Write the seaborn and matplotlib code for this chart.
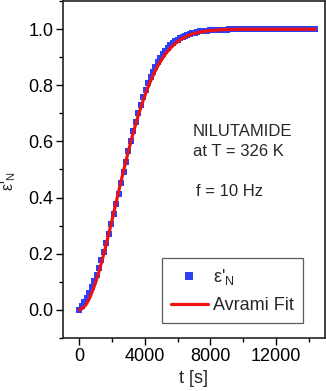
import matplotlib
matplotlib.use("Agg")
import matplotlib.pyplot as plt
import seaborn as sns
import pandas as pd
from matplotlib.ticker import MultipleLocator

# measured data (t in s, normalized permittivity)
t_data = [0, 150, 300, 450, 600, 750, 900, 1050, 1200, 1350,
          1500, 1650, 1800, 1950, 2100, 2250, 2400, 2550, 2700, 2850,
          3000, 3150, 3300, 3450, 3600, 3750, 3900, 4050, 4200, 4350,
          4500, 4650, 4800, 4950, 5100, 5250, 5400, 5550, 5700, 5850,
          6000, 6150, 6300, 6450, 6600, 6750, 6900, 7050, 7200, 7350,
          7500, 7650, 7800, 7950, 8100, 8250, 8400, 8550, 8700, 8850,
          9000, 9150, 9300, 9450, 9600, 9750, 9900, 10050, 10200, 10350,
          10500, 10650, 10800, 10950, 11100, 11250, 11400, 11550, 11700, 11850,
          12000, 12150, 12300, 12450, 12600, 12750, 12900, 13050, 13200, 13350,
          13500, 13650, 13800, 13950, 14100, 14250, 14400]
eps_data = [0.000, 0.013, 0.027, 0.043, 0.061, 0.081, 0.102, 0.125, 0.150, 0.177,
            0.206, 0.237, 0.270, 0.304, 0.340, 0.377, 0.414, 0.452, 0.490, 0.528,
            0.565, 0.601, 0.636, 0.669, 0.700, 0.729, 0.757, 0.783, 0.807, 0.829,
            0.849, 0.867, 0.883, 0.898, 0.911, 0.923, 0.933, 0.942, 0.950, 0.957,
            0.963, 0.969, 0.973, 0.977, 0.981, 0.984, 0.986, 0.988, 0.990, 0.992,
            0.993, 0.994, 0.995, 0.996, 0.997, 0.997, 0.998, 0.998, 0.999, 0.999,
            0.999, 1.000, 1.000, 1.000, 1.000, 1.000, 1.000, 1.000, 1.000, 1.000,
            1.000, 1.000, 1.000, 1.000, 1.000, 1.000, 1.000, 1.000, 1.000, 1.000,
            1.000, 1.000, 1.000, 1.000, 1.000, 1.000, 1.000, 1.000, 1.000, 1.000,
            1.000, 1.000, 1.000, 1.000, 1.000, 1.000, 1.000]

# Avrami fit curve values
t_fit = [0, 200, 400, 600, 800, 1000, 1200, 1400, 1600, 1800,
         2000, 2200, 2400, 2600, 2800, 3000, 3200, 3400, 3600, 3800,
         4000, 4200, 4400, 4600, 4800, 5000, 5200, 5400, 5600, 5800,
         6000, 6200, 6400, 6600, 6800, 7000, 7400, 7800, 8200, 8600,
         9000, 10000, 11000, 12000, 13000, 14400]
eps_fit = [0.000, 0.005, 0.018, 0.038, 0.066, 0.098, 0.136, 0.178, 0.223, 0.271,
           0.320, 0.371, 0.421, 0.471, 0.519, 0.566, 0.611, 0.653, 0.693, 0.729,
           0.763, 0.794, 0.822, 0.847, 0.870, 0.889, 0.907, 0.922, 0.935, 0.946,
           0.956, 0.964, 0.970, 0.976, 0.981, 0.985, 0.990, 0.994, 0.996, 0.998,
           0.999, 1.000, 1.000, 1.000, 1.000, 1.000]

x_ticks = [0, 4000, 8000, 12000]
y_ticks = [0.0, 0.2, 0.4, 0.6, 0.8, 1.0]

sns.set_theme(style="ticks")
plt.rcParams['font.family'] = ['Liberation Sans', 'DejaVu Sans']
plt.rcParams['mathtext.fontset'] = 'custom'
plt.rcParams['mathtext.rm'] = 'Liberation Sans'
plt.rcParams['mathtext.it'] = 'Liberation Sans'

fig = plt.figure(figsize=(3.26, 3.91), dpi=100)
ax = fig.add_axes([0.193, 0.136, 0.804, 0.861])

df_data = pd.DataFrame({"t": t_data, "eps": eps_data})
df_fit = pd.DataFrame({"t": t_fit, "eps": eps_fit})

sns.lineplot(data=df_data, x="t", y="eps", ax=ax, linestyle="none", marker="s",
             markersize=4.9, markeredgewidth=0, color="#2d3ff7", label="ε'$_\\mathregular{N}$")
sns.lineplot(data=df_fit, x="t", y="eps", ax=ax, color="#ee1111", linewidth=2.3,
             label="Avrami Fit")

ax.set_xlim(-1000, 15000)
ax.set_ylim(-0.1, 1.1)
ax.set_xticks(x_ticks)
ax.set_yticks(y_ticks)
ax.set_yticklabels([f"{v:.1f}" for v in y_ticks])
ax.xaxis.set_minor_locator(MultipleLocator(2000))
ax.yaxis.set_minor_locator(MultipleLocator(0.1))
ax.tick_params(which="major", direction="out", length=5, width=1, labelsize=13,
               colors="black", pad=2)
ax.tick_params(which="minor", direction="out", length=3, width=1, colors="black")
for s in ax.spines.values():
    s.set_visible(True)
    s.set_linewidth(1.2)
    s.set_color("#222222")

ax.set_xlabel("t [s]", fontsize=13, labelpad=4)
ax.set_ylabel("ε'$_\\mathregular{N}$", fontsize=11.5)
ax.yaxis.set_label_coords(-0.172, 0.465)

ax.text(0.496, 0.584, "NILUTAMIDE\nat T = 326 K", transform=ax.transAxes,
        fontsize=12, va="center", ha="left", linespacing=1.4)
ax.text(0.508, 0.436, "f = 10 Hz", transform=ax.transAxes, fontsize=12,
        va="center", ha="left")

leg = ax.legend(loc="lower right", bbox_to_anchor=(0.916, 0.043), fontsize=13,
                frameon=True, fancybox=False, handlelength=2.05, handletextpad=0.3,
                borderpad=0.5, labelspacing=0.55, borderaxespad=0, markerscale=1.2)
leg.get_frame().set_edgecolor("#333333")
leg.get_frame().set_linewidth(0.9)

fig.savefig("out.png", dpi=100)
